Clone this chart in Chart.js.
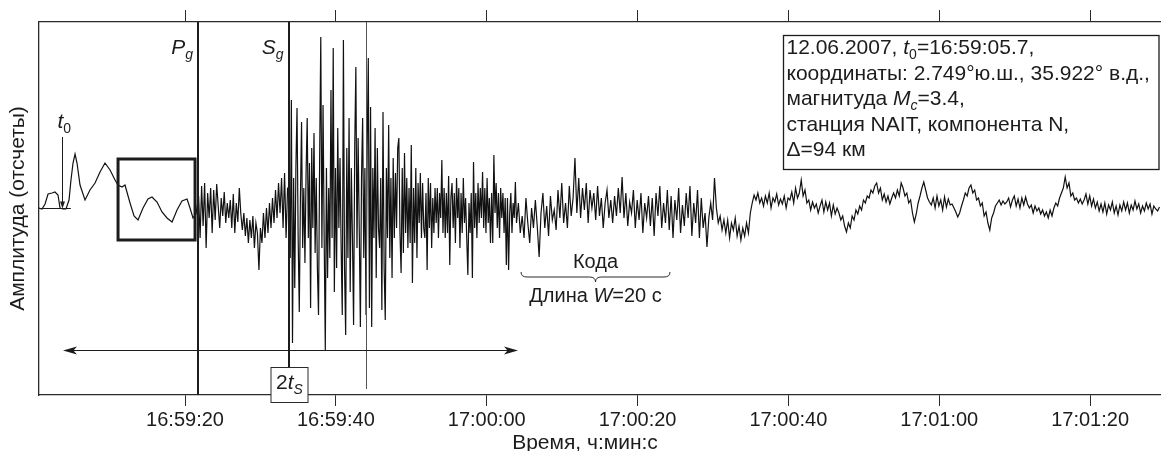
<!DOCTYPE html>
<html lang="ru">
<head>
<meta charset="utf-8">
<title>Сейсмограмма, станция NAIT</title>
<script src="https://cdn.jsdelivr.net/npm/chart.js@4.4.1/dist/chart.umd.min.js"></script>
<style>
  html, body { margin: 0; padding: 0; background: #fff; overflow: hidden; }
  #wrap { width: 1161px; height: 451px; }
</style>
</head>
<body>
<div id="wrap"><canvas id="seismo" width="1161" height="451"></canvas></div>
<script>
// Time is in seconds after 16:59:00, amplitude in counts (arbitrary units)

// Before the P arrival: slow, smooth motion
const preEventTimes = [0.64, 1.04, 1.44, 1.84, 2.37, 2.76, 3.16, 3.43, 3.82, 4.22,
  4.62, 4.88, 5.15, 5.42, 5.68, 6.08, 6.74, 7.40, 8.07, 8.73,
  9.39, 10.06, 10.72, 11.12, 11.65, 12.04, 12.71, 13.24, 13.77, 14.43,
  15.09, 15.62, 16.29, 16.95, 17.61, 18.28, 18.94, 19.60, 20.27, 20.66,
  21.06, 21.46];
const preEventCounts = [0, -1, 4, 14, 15, 16, 13, 0, -1, -1,
  8, 28, 45, 54, 45, 23, 8, 18, 25, 36,
  45, 38, 28, 23, 21, 23, 5, -8, -12, 0,
  9, 11, 6, -4, -10, -14, -2, 7, 9, 0,
  -10, -6];

// Pg to Sg
const pWaveStart = 21.8;
const pWaveStep = 0.2;
const pWaveCounts = [12, -30, 22, -18, 25, -40, 15, -10, 20, -25,
  18, -12, 24, 2, -20, 10, -8, 16, -15, 5,
  -10, 8, -20, 14, -25, 5, -14, 20, -6, -22,
  -5, -28, -10, -35, -12, -30, -8, -40, -15, -25,
  -62, -20, -35, -5, -30, 0, -25, 5, -20, 10,
  -15, 18, -10, 25, -5, 30, -20, 35, -30, 20];

// Sg group
const sWaveStart = 33.8;
const sWaveStep = 0.15;
const sWaveCounts = [20, -50, 108, -135, 30, -80, 40, 100, -30, -104,
  10, 86, -40, 20, -55, 35, 90, -30, 45, -100,
  60, -20, 75, -45, 30, -60, -107, 50, 171, -40,
  103, -30, -142, 40, -70, 20, -50, 118, -30, 160,
  -84, 40, -60, 80, -20, 50, -40, -107, 168, -60,
  -127, 60, -50, 90, -84, 40, -30, -117, 60, 141,
  -40, 70, -20, -119, 30, 90, -50, 40, -107, 60,
  150, -100, 101, -119, 40, -30, 80, -70, 60, -20,
  -40, 30, -102, 96, -60, -112, 40, -30, 83, -50,
  30, -70, 50, -30, 35, -20, 60, 70, -25, -65,
  40, -45, 55, -25, 30, -40, 20, -35, 63, -75,
  20, -35, 40, -50, 25, -15, 35, -30, 25, -20,
  -30, 15, -62, 30, -20, 25, -40, 10, -25, 20,
  -15, 20, -30, 15, -10, 48, -25, 20, -30, 15,
  -25, 32, -57, 10, 25, -20, 15, -35, 30, -10,
  20, -40, 15, -25, 30, -15, 10, -30, -67, 5,
  -25, 15, -70, 46, -20, 15, -30, 25, -15, 20,
  -10, 36, -20, 20, -25, 30, -15, 10, -35, 15,
  -35, 53, -5, 25, -20, 15, -30, 20, -10, 15,
  -25, 10, -57, 10, -62, -5, 15, -25, 5, -10,
  26, -15];

// Coda and background noise to the end of the record
const codaStart = 64.2;
const codaStep = 0.25;
const codaCounts = [5, -25, -8, -30, 10, -15, -35, 0, -20, 8,
  -18, -49, -5, 15, -20, 2, -28, 12, -12, -2,
  -22, 18, -10, 25, -15, 5, -20, 22, -8, 10,
  50, -5, 30, -10, 20, -2, 25, -15, 18, 0,
  15, -12, 22, -8, 10, -20, 5, 18, -10, 8,
  -15, 12, -8, 20, -5, 31, -10, 15, -18, 6,
  -5, 18, -20, 8, -12, 15, -25, 5, -10, 12,
  -18, 10, -28, 15, -8, 22, -20, 5, -15, 18,
  -22, 12, -30, 8, -12, 20, -25, 3, -18, 15,
  -10, 22, -28, 5, -15, 18, -30, 10, -20, -5,
  -39, -10, 5, -12, 30, 0, -15, -8, -22, -12,
  -25, -12, -30, -15, -22, -10, -28, -18, -32, -20,
  -28, -15, -25, -5, 5, 13, 8, 15, 5, 10,
  2, 12, 5, 15, 0, 10, 6, 14, 3, 9,
  4, 12, 0, 10, 8, 16, 5, 20, 10, 15,
  28, 12, 18, 5, 8, -2, 6, 0, 4, -5,
  2, 8, -4, 6, -2, 5, -8, 3, -6, 0,
  -5, -12, -8, -18, -24, -15, -20, -8, -12, -2,
  -6, 2, -2, 8, 5, 12, 10, 18, 15, 22,
  25, 15, 20, 8, 14, 6, 12, 4, 10, 15,
  10, 18, 12, 25, 20, 12, 15, 5, 8, -5,
  -14, -6, 5, 12, 20, 26, 18, 10, 6, 3,
  10, 0, 12, 2, 8, -2, 11, 1, 9, 3,
  4, 0, -4, -9, -5, 2, 8, 15, 12, 20,
  23, 15, 18, 8, 10, 2, 5, -8, -4, -15,
  -22, -10, -5, 2, 5, 8, 3, 7, 4, 6,
  10, 1, 8, 12, 2, 9, 0, 10, 3, 11,
  4, 0, 3, -5, 2, -3, 0, -6, -2, -8,
  -4, -10, -2, -8, 0, 5, 2, 10, 15, 20,
  31, 20, 25, 12, 15, 8, 10, 5, 9, 4,
  8, 14, 4, 12, 2, 9, 0, 6, -3, 4,
  -4, 5, -6, 3, -2, 6, -5, 2, -7, 3,
  -3, 6, -2, 5, -5, 3, -2, 7, -1, 4,
  -5, 2, -3, 5, -1, 4, -6, 2, -1, -3,
  1];

// Time axis
const tickSeconds = [20, 40, 60, 80, 100, 120, 140];
const tickLabels = ['16:59:20', '16:59:40', '17:00:00', '17:00:20', '17:00:40', '17:01:00', '17:01:20'];
const timeMin = 0.64;
const timeMax = 149.4;
const countMin = -187;
const countMax = 186;

// Picks and marks (seconds after 16:59:00)
const t0Time = 3.69;
const pgTime = 21.76;
const sgTime = 33.74;
const peakTime = 43.96;
const noiseWindow = [11.12, 21.33];
const noiseLevels = [49, -32];
const spanArrow = [3.82, 64.15];
const spanLevel = -142;
const codaWindow = [64.55, 84.3];

const infoLines = [
    [['12.06.2007, ', ''], ['t', 'i'], ['0', 'sub'], ['=16:59:05.7,', '']],
    [['координаты: 2.749°ю.ш., 35.922° в.д.,', '']],
    [['магнитуда ', ''], ['M', 'i'], ['c', 'isub'], ['=3.4,', '']],
    [['станция NAIT, компонента N,', '']],
    [['Δ=94 км', '']]
];

const FONT = "'Liberation Sans', Arial, Helvetica, sans-serif";
const INK = '#1c1c1c';
const AXIS = '#2a2a2a';

function sampled(start, step, counts) {
    return counts.map((c, i) => ({ x: start + i * step, y: c }));
}

const tracePoints = preEventTimes.map((t, i) => ({ x: t, y: preEventCounts[i] }))
    .concat(sampled(pWaveStart, pWaveStep, pWaveCounts))
    .concat(sampled(sWaveStart, sWaveStep, sWaveCounts))
    .concat(sampled(codaStart, codaStep, codaCounts));

function fontFor(style, size) {
    const italic = style === 'i' || style === 'isub';
    const sub = style === 'sub' || style === 'isub';
    const fs = sub ? Math.round(size * 0.68) : size;
    return (italic ? 'italic ' : '') + fs + 'px ' + FONT;
}

// Text with italic parts and subscripts
function richWidth(ctx, parts, size) {
    let w = 0;
    parts.forEach(([text, style]) => {
        ctx.font = fontFor(style, size);
        w += ctx.measureText(text).width;
    });
    return w;
}

function drawRich(ctx, parts, x, y, size) {
    let cx = x;
    parts.forEach(([text, style]) => {
        ctx.font = fontFor(style, size);
        const sub = style === 'sub' || style === 'isub';
        ctx.fillText(text, cx, sub ? y + Math.round(size * 0.25) : y);
        cx += ctx.measureText(text).width;
    });
}

function arrowHead(ctx, x, y, dir, len, half) {
    // dir: 1 points right, -1 left, 2 points down
    ctx.beginPath();
    if (dir === 2) {
        ctx.moveTo(x, y);
        ctx.lineTo(x - half, y - len);
        ctx.lineTo(x + half, y - len);
    } else {
        ctx.moveTo(x, y);
        ctx.lineTo(x - dir * len, y - half);
        ctx.lineTo(x - dir * len * 0.75, y);
        ctx.lineTo(x - dir * len, y + half);
    }
    ctx.closePath();
    ctx.fill();
}

const seismoMarks = {
    id: 'seismoMarks',
    afterDraw(chart) {
        const { ctx, chartArea: area, scales: { x, y } } = chart;
        const px = t => x.getPixelForValue(t);
        const py = v => y.getPixelForValue(v);

        ctx.save();
        ctx.fillStyle = INK;
        ctx.strokeStyle = INK;
        ctx.textBaseline = 'alphabetic';

        // Noise window
        ctx.lineWidth = 3;
        ctx.strokeRect(px(noiseWindow[0]), py(noiseLevels[0]),
            px(noiseWindow[1]) - px(noiseWindow[0]), py(noiseLevels[1]) - py(noiseLevels[0]));

        // 2tS box geometry
        const sgX = Math.round(px(sgTime)) + 0.5;
        const boxTop = area.bottom - 28;
        const boxBottom = area.bottom + 7;

        // Phase lines
        ctx.lineWidth = 2;
        const pgX = Math.round(px(pgTime));
        ctx.beginPath();
        ctx.moveTo(pgX, area.top);
        ctx.lineTo(pgX, area.bottom);
        ctx.moveTo(sgX - 0.5, area.top);
        ctx.lineTo(sgX - 0.5, boxTop);
        ctx.stroke();

        ctx.lineWidth = 1;
        ctx.strokeStyle = '#555';
        const pkX = Math.round(px(peakTime)) + 0.5;
        ctx.beginPath();
        ctx.moveTo(pkX, area.top);
        ctx.lineTo(pkX, area.bottom - 6);
        ctx.stroke();
        ctx.strokeStyle = INK;

        // Double arrow under the record
        const ay = Math.round(py(spanLevel)) + 0.5;
        const ax1 = px(spanArrow[0]);
        const ax2 = px(spanArrow[1]);
        ctx.lineWidth = 1.2;
        ctx.beginPath();
        ctx.moveTo(ax1 + 6, ay);
        ctx.lineTo(ax2 - 6, ay);
        ctx.stroke();
        arrowHead(ctx, ax1, ay, -1, 14, 4);
        arrowHead(ctx, ax2, ay, 1, 14, 4);

        // t0 marker
        const t0X = Math.round(px(t0Time)) + 0.5;
        const baseY = Math.round(py(0)) + 0.5;
        ctx.lineWidth = 1;
        ctx.beginPath();
        ctx.moveTo(area.left, baseY);
        ctx.lineTo(px(4.86), baseY);
        ctx.moveTo(t0X, py(71));
        ctx.lineTo(t0X, baseY - 6);
        ctx.stroke();
        arrowHead(ctx, t0X, baseY, 2, 7, 2.5);
        drawRich(ctx, [['t', 'i'], ['0', 'sub']], t0X - 5, py(71) - 9, 21);

        // Phase names
        const pgLabel = [['P', 'i'], ['g', 'isub']];
        const sgLabel = [['S', 'i'], ['g', 'isub']];
        drawRich(ctx, pgLabel, pgX - 5 - richWidth(ctx, pgLabel, 21), area.top + 32, 21);
        drawRich(ctx, sgLabel, sgX - 6 - richWidth(ctx, sgLabel, 21), area.top + 32, 21);

        // 2tS box, sits over the time axis
        ctx.fillStyle = '#fff';
        ctx.fillRect(sgX - 18.5, boxTop, 37, boxBottom - boxTop);
        ctx.strokeStyle = AXIS;
        ctx.lineWidth = 1;
        ctx.strokeRect(sgX - 18.5, boxTop + 0.5, 37, boxBottom - boxTop);
        ctx.fillStyle = INK;
        const tsLabel = [['2', ''], ['t', 'i'], ['S', 'isub']];
        drawRich(ctx, tsLabel, sgX - richWidth(ctx, tsLabel, 21) / 2, boxTop + 22, 21);

        // Coda brace and labels
        const c1 = px(codaWindow[0]);
        const c2 = px(codaWindow[1]);
        const cm = (c1 + c2) / 2;
        const bTop = py(-64), bMid = py(-69), bTip = py(-74);
        ctx.lineWidth = 1;
        ctx.beginPath();
        ctx.moveTo(c1, bTop);
        ctx.quadraticCurveTo(c1, bMid, c1 + 6, bMid);
        ctx.lineTo(cm - 6, bMid);
        ctx.quadraticCurveTo(cm, bMid, cm, bTip);
        ctx.quadraticCurveTo(cm, bMid, cm + 6, bMid);
        ctx.lineTo(c2 - 6, bMid);
        ctx.quadraticCurveTo(c2, bMid, c2, bTop);
        ctx.stroke();
        const codaLabel = [['Кода', '']];
        drawRich(ctx, codaLabel, cm - richWidth(ctx, codaLabel, 20) / 2, py(-60), 20);
        const lenLabel = [['Длина ', ''], ['W', 'i'], ['=20 с', '']];
        drawRich(ctx, lenLabel, cm - richWidth(ctx, lenLabel, 20) / 2, py(-94), 20);

        // Event info box
        const boxL = area.right - 377.5;
        const boxR = area.right - 2;
        const infoTop = area.top + 13.5;
        ctx.fillStyle = '#fff';
        ctx.fillRect(boxL, infoTop, boxR - boxL, 134);
        ctx.strokeStyle = INK;
        ctx.lineWidth = 1.3;
        ctx.strokeRect(boxL, infoTop, boxR - boxL, 134);
        ctx.fillStyle = INK;
        infoLines.forEach((line, i) => {
            drawRich(ctx, line, boxL + 3, infoTop + 18.5 + i * 25.5, 21);
        });

        // Time axis title
        ctx.font = '21px ' + FONT;
        ctx.textAlign = 'center';
        ctx.fillText('Время, ч:мин:с', (area.left + area.right) / 2 - 15, 449);

        ctx.restore();
    }
};

function setTimeTicks(axis) {
    axis.ticks = tickSeconds.map(v => ({ value: v }));
}

Chart.defaults.font.family = FONT;
Chart.defaults.color = INK;

const chartCtx = document.getElementById('seismo').getContext('2d');
new Chart(chartCtx, {
    type: 'line',
    data: {
        datasets: [{
            data: tracePoints,
            borderColor: '#111',
            borderWidth: 1.2,
            pointRadius: 0,
            tension: 0,
            fill: false
        }]
    },
    options: {
        responsive: false,
        animation: false,
        parsing: false,
        normalized: true,
        events: [],
        layout: { padding: 0 },
        plugins: {
            legend: { display: false },
            tooltip: { enabled: false }
        },
        scales: {
            x: {
                type: 'linear',
                position: 'bottom',
                min: timeMin,
                max: timeMax,
                afterBuildTicks: setTimeTicks,
                afterFit: s => { s.height = 56; },
                grid: { drawOnChartArea: false, tickLength: 11, color: AXIS, lineWidth: 1 },
                border: { color: AXIS, width: 1.3 },
                ticks: {
                    padding: 2,
                    color: INK,
                    autoSkip: false,
                    maxRotation: 0,
                    font: { size: 20 },
                    callback: v => tickLabels[tickSeconds.indexOf(v)] || ''
                }
            },
            xTop: {
                type: 'linear',
                position: 'top',
                min: timeMin,
                max: timeMax,
                afterBuildTicks: setTimeTicks,
                afterFit: s => { s.height = 22; },
                grid: { drawOnChartArea: false, tickLength: 12, color: AXIS, lineWidth: 1 },
                border: { color: AXIS, width: 1.3 },
                ticks: { display: false }
            },
            y: {
                min: countMin,
                max: countMax,
                afterFit: s => { s.width = 39; },
                grid: { display: false },
                border: { color: AXIS, width: 1.3 },
                ticks: { display: false },
                title: {
                    display: true,
                    text: 'Амплитуда (отсчеты)',
                    color: INK,
                    font: { size: 21 },
                    padding: { top: 6, bottom: 0 }
                }
            }
        }
    },
    plugins: [seismoMarks]
});
</script>
</body>
</html>
